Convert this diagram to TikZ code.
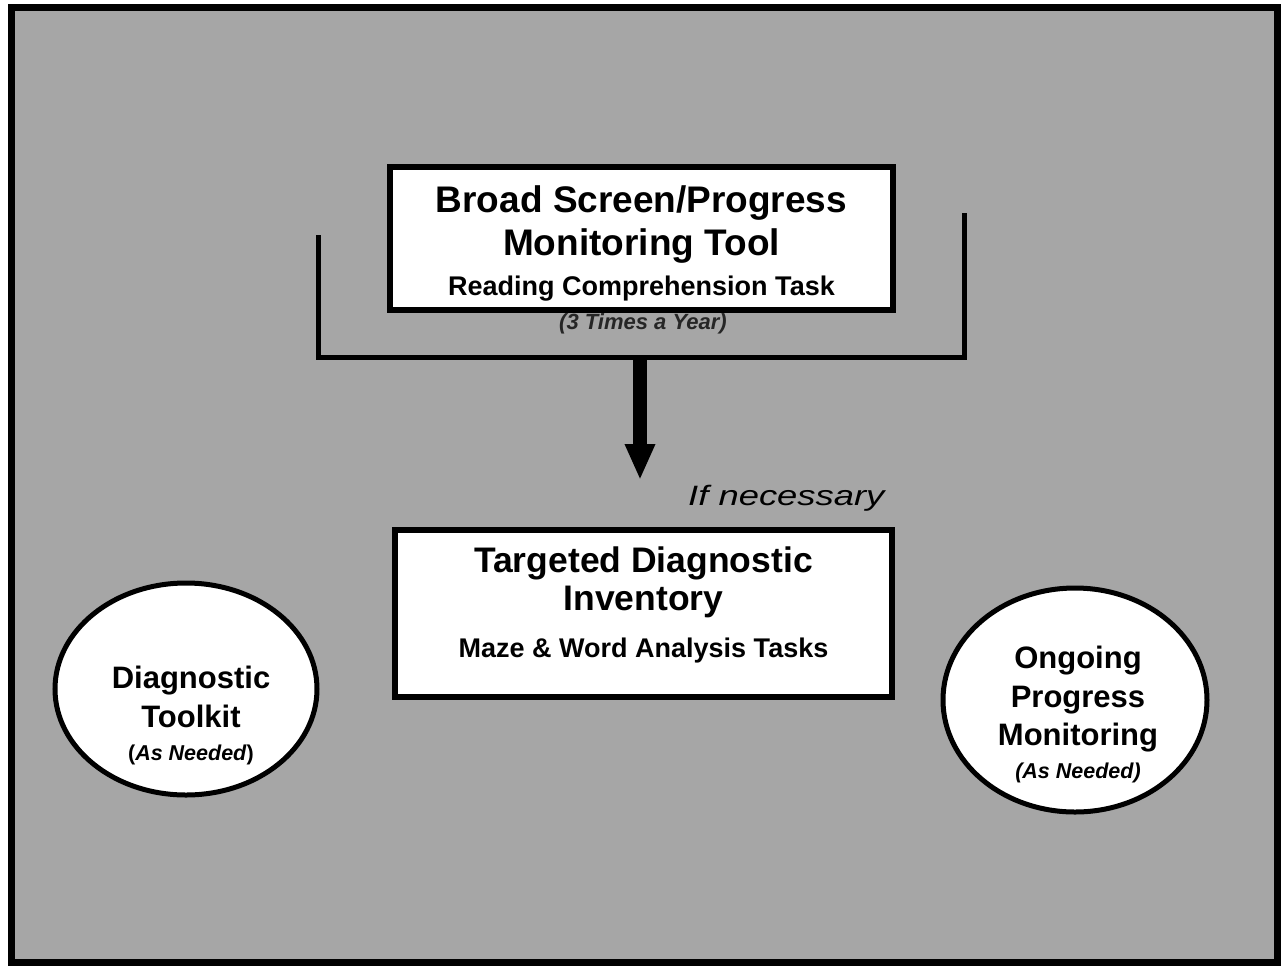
\documentclass[tikz,border=0pt]{standalone}
\usepackage{fontspec}
\usepackage{graphicx}
\setmainfont{Liberation Sans}
\usetikzlibrary{shapes.geometric,arrows.meta}
\definecolor{bggray}{gray}{0.65}
\definecolor{subgray}{gray}{0.15}
\begin{document}
\begin{tikzpicture}[x=1pt,y=-1pt,
  boxnode/.style={draw=black,fill=white,line width=6pt,inner sep=0pt},
  ovalnode/.style={ellipse,draw=black,fill=white,line width=5pt,inner sep=0pt},
  bigtext/.style={anchor=base,inner sep=0pt,font=\fontsize{37}{43}\selectfont\bfseries},
  midtext/.style={anchor=base,inner sep=0pt,font=\fontsize{35.5}{40}\selectfont\bfseries},
  subtext/.style={anchor=base,inner sep=0pt,font=\fontsize{27}{32}\selectfont\bfseries},
  circtext/.style={anchor=base,inner sep=0pt,font=\fontsize{31}{36}\selectfont\bfseries},
  notetext/.style={anchor=base,inner sep=0pt,font=\fontsize{21.5}{26}\selectfont\bfseries},
  connector/.style={draw=black,line width=5pt}
]
\useasboundingbox (0,0) rectangle (1283,970);
\fill[white] (0,0) rectangle (1283,970);
\draw[line width=7pt,fill=bggray] (11,7) rectangle (1277,962);

% bracket and arrow
\coordinate (bl) at (318,237);
\coordinate (br) at (964,215);
\coordinate (bm) at (640,357);
\coordinate (tip) at (640,480);
\draw[connector,line cap=rect] (bl) |- (bm) -| (br);
\draw[line width=14pt,-{Triangle[width=28pt,length=36pt]}] (bm) -- (tip);

% top box
\node[boxnode,minimum width=503pt,minimum height=143pt] (screen) at (641.5,238.5) {};
\node[bigtext] (screen1) at (641.5,212) {Broad Screen/Progress};
\node[bigtext] (screen2) at (641.5,255) {Monitoring Tool};
\node[subtext] (screen3) at (641.5,295) {Reading Comprehension Task};
\node[anchor=base,inner sep=0pt,text=subgray,font=\fontsize{22}{26}\selectfont\bfseries\itshape] (times) at (643,329) {(3 Times a Year)};

% if necessary
\node[anchor=base west,inner sep=0pt,font=\fontsize{28}{32}\selectfont\itshape] (ifnec) at (688,505) {\scalebox{1.3}[1]{If necessary}};

% middle box
\node[boxnode,minimum width=497pt,minimum height=167pt] (target) at (643.5,613.5) {};
\node[midtext] (target1) at (643.5,572) {Targeted Diagnostic};
\node[midtext] (target2) at (643.5,610) {Inventory};
\node[subtext] (target3) at (643.5,657) {Maze \& Word Analysis Tasks};

% left circle
\node[ovalnode,minimum width=262pt,minimum height=212pt] (toolkit) at (186,689) {};
\node[circtext] (toolkit1) at (191,688) {Diagnostic};
\node[circtext] (toolkit2) at (191,727) {Toolkit};
\node[notetext] (toolkit3) at (191,760) {(\textit{As Needed})};

% right circle
\node[ovalnode,minimum width=264pt,minimum height=224pt] (ongoing) at (1075,700) {};
\node[circtext] (ongoing1) at (1078,668) {Ongoing};
\node[circtext] (ongoing2) at (1078,707) {Progress};
\node[circtext] (ongoing3) at (1078,745) {Monitoring};
\node[notetext,font=\fontsize{21.5}{26}\selectfont\bfseries\itshape] (ongoing4) at (1078,778) {(As Needed)};
\end{tikzpicture}
\end{document}
